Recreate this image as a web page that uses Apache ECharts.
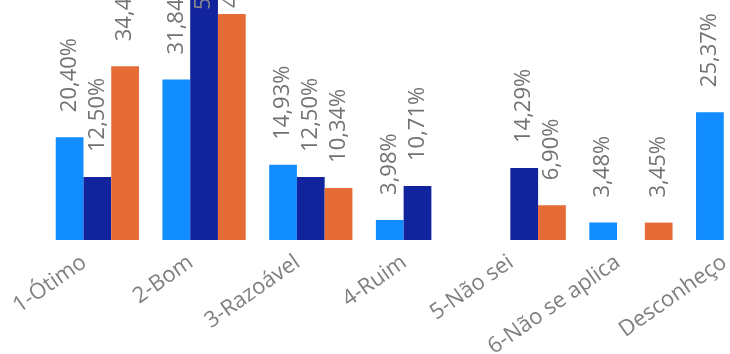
<!DOCTYPE html>
<html><head><meta charset="utf-8">
<script src="https://cdn.jsdelivr.net/npm/echarts@6/dist/echarts.min.js"></script>
<style>html,body{margin:0;padding:0;background:#fff}#c{width:730px;height:354px}</style>
</head><body><div id="c"></div>
<script>
const categories = ['1-Ótimo', '2-Bom', '3-Razoável', '4-Ruim', '5-Não sei', '6-Não se aplica', 'Desconheço'];
const seriesA = [20.40, 31.84, 14.93, 3.98, null, 3.48, 25.37];
const seriesB = [12.50, 50.00, 12.50, 10.71, 14.29, null, null];
const seriesC = [34.48, 44.83, 10.34, null, 6.90, 3.45, null];
const colors = ['#118DFF', '#12239E', '#E66C37'];

const fmt = p => p.value == null ? '' : p.value.toFixed(2).replace('.', ',') + '%';
const baseLabel = {
  show: true, position: 'top', rotate: 90, align: 'left', verticalAlign: 'middle',
  distance: 25, fontFamily: 'Open Sans', fontSize: 22, color: '#727272', formatter: fmt
};
function mk(name, arr, color, overrides) {
  return {
    name, type: 'bar', barGap: '0%', barCategoryGap: '22%',
    itemStyle: { color },
    label: baseLabel,
    data: arr.map((v, i) => {
      const o = { value: v };
      if (overrides && overrides[i]) o.label = overrides[i];
      return o;
    })
  };
}
const chart = echarts.init(document.getElementById('c'), null, { renderer: 'canvas' });
chart.setOption({
  animation: false,
  grid: { left: 44, width: 747, top: -62.4, height: 302.4, containLabel: false, outerBoundsMode: 'none' },
  xAxis: {
    type: 'category', data: categories,
    axisLine: { show: false }, axisTick: { show: false },
    axisLabel: { rotate: 35, margin: 11, fontFamily: 'Open Sans', fontSize: 22, color: '#7f7f7f', padding: [0, 16, 0, 0] }
  },
  yAxis: { type: 'value', min: 0, max: 60, show: false, splitLine: { show: false } },
  series: [
    mk('A', seriesA, colors[0]),
    mk('B', seriesB, colors[1], { 1: { position: ['50%', 22], distance: 0, color: '#8a8a8a' } }),
    mk('C', seriesC, colors[2], { 1: { distance: 6 } })
  ]
});
</script></body></html>
